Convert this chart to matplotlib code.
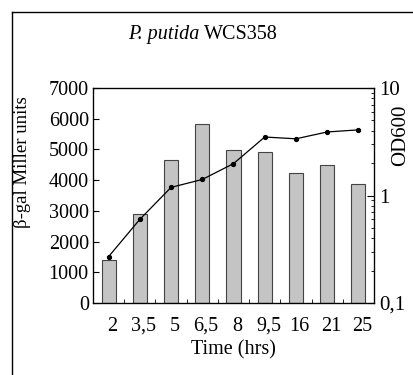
import matplotlib
matplotlib.use("Agg")
import matplotlib.pyplot as plt
from matplotlib.lines import Line2D
from matplotlib.ticker import FixedLocator, FixedFormatter, LogLocator, NullFormatter

plt.rcParams['font.family'] = ['Liberation Serif', 'DejaVu Serif']

time_labels = ["2", "3,5", "5", "6,5", "8", "9,5", "16", "21", "25"]
miller_units = [1400, 2900, 4670, 5830, 4990, 4930, 4240, 4500, 3890]
od600 = [0.27, 0.60, 1.19, 1.41, 1.98, 3.5, 3.37, 3.9, 4.08]
left_ticks = [0, 1000, 2000, 3000, 4000, 5000, 6000, 7000]

fig = plt.figure(figsize=(4.14, 3.75), dpi=100)
ax = fig.add_axes([0.2246, 0.192, 0.6788, 0.5733])
x = list(range(len(time_labels)))

ax.bar(x, miller_units, width=0.45, color='#c4c4c4', edgecolor='#444444', linewidth=0.8, zorder=2)
ax.set_xlim(-0.5, len(x) - 0.5)
ax.set_ylim(0, 7000)
ax.set_yticks(left_ticks)
ax.set_yticklabels([str(t) for t in left_ticks], fontsize=14.5)
ax.set_xticks([i + 0.12 for i in x])
ax.set_xticklabels(time_labels, fontsize=14.5)
ax.tick_params(axis='x', length=0, pad=10)
ax.tick_params(axis='y', direction='in', length=4, pad=3)
ax.set_xticks([i + 0.5 for i in x[:-1]], minor=True)
ax.tick_params(axis='x', which='minor', direction='in', length=3)
ax.set_ylabel("β-gal Miller units", fontsize=13.5)
ax.yaxis.set_label_coords(-0.222, 0.656)
ax.set_xlabel("Time (hrs)", fontsize=14.5, labelpad=3)
for s in ax.spines.values():
    s.set_linewidth(0.9)

ax2 = ax.twinx()
ax2.plot(x, od600, color='black', linewidth=0.9, marker='o', markersize=2.8, zorder=3)
ax2.set_yscale('log')
ax2.set_ylim(0.1, 10)
ax2.yaxis.set_major_locator(FixedLocator([0.1, 1, 10]))
ax2.yaxis.set_major_formatter(FixedFormatter(["0,1", "1", "10"]))
ax2.yaxis.set_minor_locator(LogLocator(base=10, subs=range(2, 10)))
ax2.yaxis.set_minor_formatter(NullFormatter())
ax2.tick_params(axis='y', which='major', direction='in', length=5, labelsize=15, pad=4)
ax2.tick_params(axis='y', which='minor', direction='in', length=2.5)
ax2.set_ylabel("OD600", fontsize=15, rotation=90)
ax2.yaxis.set_label_coords(1.06, 0.78)

t1 = fig.text(0.309, 0.907, "P. putida", fontsize=14.5, ha='left', va='center', style='italic')
fig.canvas.draw()
bb = t1.get_window_extent()
x_next = (bb.x1 + 5) / fig.bbox.width
fig.text(x_next, 0.907, "WCS358", fontsize=14.5, ha='left', va='center')

fig.add_artist(Line2D([0.029, 1.0], [0.968, 0.968], transform=fig.transFigure, color='black', linewidth=1.0))
fig.add_artist(Line2D([0.029, 0.029], [0.0, 0.968], transform=fig.transFigure, color='black', linewidth=1.0))

fig.savefig("out.png", dpi=100)
